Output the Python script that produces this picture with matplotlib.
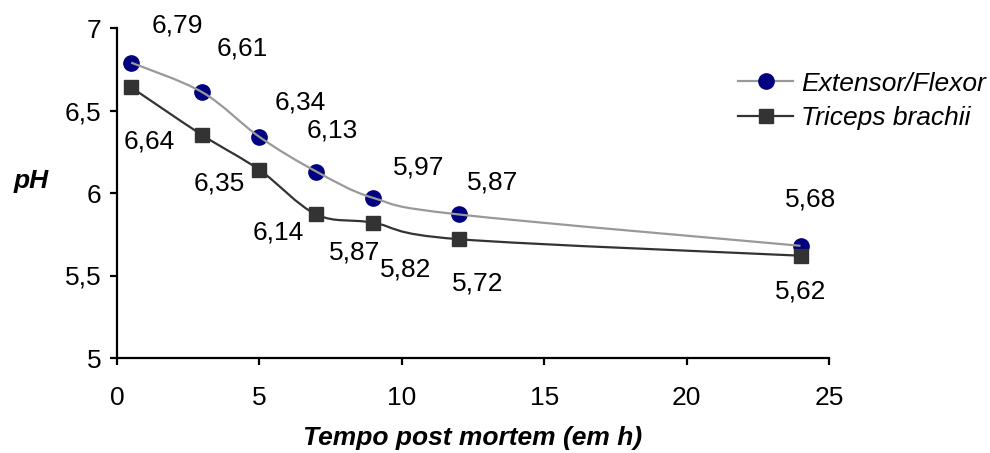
import numpy as np
import matplotlib
matplotlib.use("Agg")
import matplotlib.pyplot as plt
from matplotlib.path import Path
from matplotlib.patches import PathPatch

# ---- data ----
hours = [0.5, 3, 5, 7, 9, 12, 24]
extensor = [6.79, 6.61, 6.34, 6.13, 5.97, 5.87, 5.68]
triceps = [6.64, 6.35, 6.14, 5.87, 5.82, 5.72, 5.62]
series_names = ["Extensor/Flexor", "Triceps brachii"]
xticks = [0, 5, 10, 15, 20, 25]
yticks = [5, 5.5, 6, 6.5, 7]

# label offsets (pixels, right / down)
off_ext = [(46, -37), (40, -44), (41, -34), (16, -41), (45, -30), (34, -32), (10, -46)]
off_tri = [(18, 54), (17, 48), (19, 63), (38, 38), (32, 47), (19, 44), (0, 36)]

plt.rcParams['font.family'] = ['Liberation Sans', 'DejaVu Sans']
FS = 19
DPI = 100
fig = plt.figure(figsize=(9.9, 4.53), dpi=DPI)
ax = fig.add_axes([117/990, 1-358/453, (829-117)/990, (358-28)/453])
ax.set_xlim(0, 25)
ax.set_ylim(5, 7)
for s in ['top', 'right']:
    ax.spines[s].set_visible(False)
for s in ['left', 'bottom']:
    ax.spines[s].set_linewidth(1.6)
ax.set_xticks(xticks)
ax.set_yticks(yticks)
ax.set_xticklabels([str(t) for t in xticks])
ax.set_yticklabels([("%g" % t).replace('.', ',') for t in yticks])
ax.tick_params(direction='out', length=5, width=1.6, labelsize=FS, pad=6)
ax.tick_params(axis='x', pad=15)
ax.set_xlabel("Tempo post mortem (em h)", fontsize=FS, fontweight='bold', fontstyle='italic', labelpad=12)
ax.set_ylabel("pH", fontsize=FS, fontweight='bold', fontstyle='italic', rotation=0, labelpad=0)
ax.yaxis.set_label_coords(-0.12, 0.5)


def smooth(xs, ys):
    pts = ax.transData.transform(np.column_stack([xs, ys]))
    n = len(pts)
    verts = [pts[0]]
    codes = [Path.MOVETO]
    for i in range(n - 1):
        p0 = pts[i - 1] if i > 0 else pts[i]
        p1 = pts[i]
        p2 = pts[i + 1]
        p3 = pts[i + 2] if i + 2 < n else pts[i + 1]
        c1 = p1 + (p2 - p0) / 6.0
        c2 = p2 - (p3 - p1) / 6.0
        verts += [c1, c2, p2]
        codes += [Path.CURVE4] * 3
    return Path(verts, codes)


styles = [
    dict(line='#999999', mfc='#000080', marker='o', ms=11),
    dict(line='#333333', mfc='#333333', marker='s', ms=10.5),
]
handles = []
for ys, st, name, offs in zip([extensor, triceps], styles, series_names, [off_ext, off_tri]):
    path = smooth(hours, ys)
    patch = PathPatch(path, transform=None, fill=False, edgecolor=st['line'], lw=1.6, zorder=2)
    fig.add_artist(patch)
    ax.plot(hours, ys, linestyle='none', marker=st['marker'], ms=st['ms'],
            mfc=st['mfc'], mec=st['mfc'], zorder=3, clip_on=False)
    h, = ax.plot([], [], color=st['line'], lw=1.6, marker=st['marker'], ms=st['ms'],
                 mfc=st['mfc'], mec=st['mfc'], label=name)
    handles.append(h)
    for x, y, (dx, dy) in zip(hours, ys, offs):
        ax.annotate(("%.2f" % y).replace('.', ','), (x, y), xytext=(dx * 72 / DPI, -dy * 72 / DPI),
                    textcoords='offset points', ha='center', va='center', fontsize=FS)

leg = fig.legend(handles=handles, loc='center left', bbox_to_anchor=(738/990, 1-101/453),
                 frameon=False, fontsize=FS, handlelength=2.1, handletextpad=0.3,
                 labelspacing=0.4, borderpad=0, borderaxespad=0, prop=dict(style='italic', size=FS))

fig.savefig("out.png", dpi=DPI)
